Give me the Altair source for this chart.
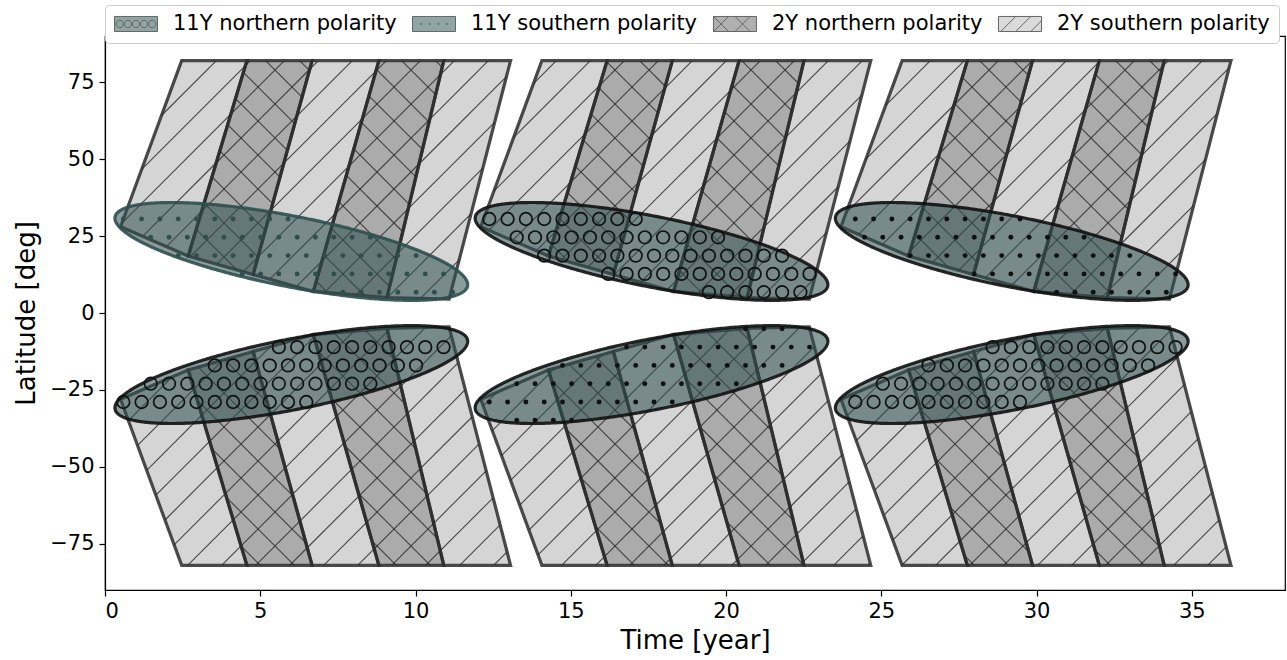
import math
import numpy as np
import pandas as pd
import altair as alt

# ---------------- values ----------------
CYCLE_SHIFT = [0.0, 11.6, 23.2]                       # start shift of each 11-year cycle [year]
BAND_TOP_T = [2.47, 4.57, 6.67, 8.82, 10.91, 13.06]   # 2Y band boundaries at the high-latitude edge
BAND_TOP_LAT = 82.0
BAND_BOT_T = [0.50, 2.68, 4.77, 6.71, 9.08, 11.08]    # 2Y band boundaries where they meet the 11Y belt
BAND_BOT_LAT = [28.0, 18.5, 12.5, 7.0, 5.0, 4.5]
BAND_KIND = ["2Y southern polarity", "2Y northern polarity", "2Y southern polarity",
             "2Y northern polarity", "2Y southern polarity"]

ELL_T = [6.0, 17.6, 29.2]        # centre time of each 11Y belt
ELL_LAT = 20.0                   # |centre latitude| of the belts
ELL_HALF_T = 5.68                # half time extent
ELL_HALF_LAT = 15.9              # half latitude extent
ELL_TIP_DLAT = 10.8              # early tip lies this far poleward of the centre
ELL_NORTH_KIND = ["11Y southern polarity", "11Y northern polarity", "11Y southern polarity"]
ELL_SOUTH_KIND = ["11Y northern polarity", "11Y southern polarity", "11Y northern polarity"]

LEGEND_ORDER = ["11Y northern polarity", "11Y southern polarity",
                "2Y northern polarity", "2Y southern polarity"]
X_TICKS = [0, 5, 10, 15, 20, 25, 30, 35]
Y_TICKS = [-75, -50, -25, 0, 25, 50, 75]

# ---------------- layout / style ----------------
W, H = 1180, 554
T_DOM = [0.0, 38.0]
LAT_DOM = [-90.0, 90.0]
FONT = "DejaVu Sans"
BAND_FILL = {"2Y southern polarity": "#d5d5d5", "2Y northern polarity": "#ababab"}
ELL_FILL = "#2f4f4f"
ELL_ALPHA = 0.56
LINE_SP = 34.0      # hatch line spacing (px)
SHAPE_SP = 18.3     # dot / circle hatch spacing (px)
CIRC_R = 6.3        # hatch circle radius (px)

PXT = W / (T_DOM[1] - T_DOM[0])
PXL = H / (LAT_DOM[1] - LAT_DOM[0])


def to_px(t, lat):
    return ((t - T_DOM[0]) * PXT, (LAT_DOM[1] - lat) * PXL)


def to_dat(X, Y):
    return (X / PXT + T_DOM[0], LAT_DOM[1] - Y / PXL)


def clip_line(poly, fam, c):
    pts = []
    n = len(poly)
    for i in range(n):
        (x1, y1), (x2, y2) = poly[i], poly[(i + 1) % n]
        f1 = x1 + fam * y1 - c
        f2 = x2 + fam * y2 - c
        if f1 == 0:
            pts.append((x1, y1))
        if (f1 < 0 < f2) or (f2 < 0 < f1):
            s = f1 / (f1 - f2)
            pts.append((x1 + s * (x2 - x1), y1 + s * (y2 - y1)))
    if len(pts) < 2:
        return None
    pts.sort()
    a, b = pts[0], pts[-1]
    if math.hypot(b[0] - a[0], b[1] - a[1]) < 1.0:
        return None
    return a, b


# ---------------- 2Y bands ----------------
band_rows, hatch_rows = [], []
for ci, sh in enumerate(CYCLE_SHIFT):
    for hemi, sg in (("N", 1), ("S", -1)):
        for k, kind in enumerate(BAND_KIND):
            bid = f"c{ci}{hemi}b{k}"
            tl, tr = BAND_TOP_T[k] + sh, BAND_TOP_T[k + 1] + sh
            bl, br = BAND_BOT_T[k] + sh, BAND_BOT_T[k + 1] + sh
            la, lb, top = BAND_BOT_LAT[k], BAND_BOT_LAT[k + 1], BAND_TOP_LAT
            if lb < la:
                xr = br + (tr - br) * (la - lb) / (top - lb)
                rows = [(lb, br, br), (la, bl, xr), (top, tl, tr)]
            else:
                xl = bl + (tl - bl) * (lb - la) / (top - la)
                rows = [(la, bl, bl), (lb, xl, br), (top, tl, tr)]
            for L, x1, x2 in rows:
                band_rows.append(dict(id=bid, lat=sg * L, x=x1, x2=x2, fill=BAND_FILL[kind]))
            poly = [to_px(tl, sg * top), to_px(tr, sg * top), to_px(br, sg * lb), to_px(bl, sg * la)]
            fams = [1] if kind == "2Y southern polarity" else [1, -1]
            for fam in fams:
                vals = [X + fam * Y for X, Y in poly]
                for n in range(math.ceil(min(vals) / LINE_SP), math.floor(max(vals) / LINE_SP) + 1):
                    seg = clip_line(poly, fam, n * LINE_SP)
                    if seg:
                        (ax, ay), (bx, by) = seg
                        t1, l1 = to_dat(ax, ay)
                        t2, l2 = to_dat(bx, by)
                        hatch_rows.append(dict(t=t1, lat=l1, t2=t2, lat2=l2))

band_df = pd.DataFrame(band_rows)
hatch_df = pd.DataFrame(hatch_rows)

# ---------------- 11Y belts ----------------
E_MINOR = math.sqrt(ELL_HALF_LAT ** 2 - ELL_TIP_DLAT ** 2)
ell_rows, circ_rows, dot_rows = [], [], []
phi = np.linspace(math.pi, 0, 241)


def rho_of(Xp, Yp, ct, clat, sd):
    t, lat = to_dat(Xp, Yp)
    uu = (t - ct) / ELL_HALF_T
    vv = (lat - clat - sd * uu) / E_MINOR
    return math.sqrt(uu * uu + vv * vv)


for ci, ct in enumerate(ELL_T):
    for hemi, sg, kinds in (("N", 1, ELL_NORTH_KIND), ("S", -1, ELL_SOUTH_KIND)):
        eid = f"e{ci}{hemi}"
        clat = sg * ELL_LAT
        sd = -sg * ELL_TIP_DLAT
        edge = "#2f4f4f" if (ci == 0 and hemi == "N") else "#111111"
        for p in phi:
            u = math.cos(p)
            s = math.sin(p)
            ell_rows.append(dict(id=eid, t=ct + ELL_HALF_T * u,
                                 hi=clat + sd * u + E_MINOR * s,
                                 lo=clat + sd * u - E_MINOR * s, edge=edge))
        kind = kinds[ci]
        # hatch grid (staggered rows), kept inside the belt
        X0, Y0 = to_px(ct - ELL_HALF_T, clat + ELL_HALF_LAT)
        X1, Y1 = to_px(ct + ELL_HALF_T, clat - ELL_HALF_LAT)
        for r in range(math.floor(Y0 / SHAPE_SP) - 1, math.ceil(Y1 / SHAPE_SP) + 2):
            Yc = r * SHAPE_SP
            off = 0.5 * SHAPE_SP if r % 2 else 0.0
            for kk in range(math.floor(X0 / SHAPE_SP) - 2, math.ceil(X1 / SHAPE_SP) + 2):
                Xc = kk * SHAPE_SP + off
                t, lat = to_dat(Xc, Yc)
                if kind == "11Y northern polarity":
                    q = 0.55 * CIRC_R
                    probes = [(Xc, Yc), (Xc + q, Yc), (Xc - q, Yc), (Xc, Yc + q), (Xc, Yc - q),
                              (Xc + 0.7 * q, Yc + 0.7 * q), (Xc - 0.7 * q, Yc - 0.7 * q),
                              (Xc + 0.7 * q, Yc - 0.7 * q), (Xc - 0.7 * q, Yc + 0.7 * q)]
                    if all(rho_of(a, b, ct, clat, sd) < 1.0 for a, b in probes):
                        circ_rows.append(dict(t=t, lat=lat, col=edge))
                else:
                    if rho_of(Xc, Yc, ct, clat, sd) < 0.97:
                        dot_rows.append(dict(t=t, lat=lat, col=edge))

ell_df = pd.DataFrame(ell_rows)
circ_df = pd.DataFrame(circ_rows)
dot_df = pd.DataFrame(dot_rows)

# ---------------- scales / axes ----------------
xs = alt.Scale(domain=T_DOM, nice=False, zero=False)
ys = alt.Scale(domain=LAT_DOM, nice=False, zero=False)
x_axis = alt.Axis(values=X_TICKS, title="Time [year]", grid=False, format="d",
                  labelFont=FONT, titleFont=FONT, labelFontSize=21, titleFontSize=26,
                  titleFontWeight="normal", labelColor="black", titleColor="black",
                  tickColor="black", domainColor="black", tickSize=6, labelPadding=4,
                  titlePadding=6, domainWidth=1.2, tickWidth=1.2)
y_axis = alt.Axis(values=Y_TICKS, title="Latitude [deg]", grid=False, format="d",
                  labelFont=FONT, titleFont=FONT, labelFontSize=21, titleFontSize=26,
                  titleFontWeight="normal", labelColor="black", titleColor="black",
                  tickColor="black", domainColor="black", tickSize=6, labelPadding=5,
                  titlePadding=10, domainWidth=1.2, tickWidth=1.2)


def X(f):
    return alt.X(f, type="quantitative", scale=xs, axis=x_axis)


def Y(f):
    return alt.Y(f, type="quantitative", scale=ys, axis=y_axis)


band_fill = alt.Chart(band_df).mark_area(orient="horizontal", opacity=1, strokeWidth=0).encode(
    y=Y("lat"), x=X("x"), x2="x2:Q", detail="id:N",
    fill=alt.Fill("fill:N", scale=None),
)

band_hatch = alt.Chart(hatch_df).mark_rule(color="#333333", strokeWidth=1.1, opacity=0.9).encode(
    x=X("t"), y=Y("lat"), x2="t2:Q", y2="lat2:Q",
)

band_edge = alt.Chart(band_df).mark_area(orient="horizontal", fill="white", fillOpacity=0,
                                         stroke="#2b2b2b", strokeWidth=3.2, strokeOpacity=0.85,
                                         strokeJoin="miter").encode(
    y=Y("lat"), x=X("x"), x2="x2:Q", detail="id:N",
)

ell_fill = alt.Chart(ell_df).mark_area(orient="vertical", color=ELL_FILL, opacity=ELL_ALPHA,
                                       strokeWidth=0).encode(
    x=X("t"), y=Y("hi"), y2="lo:Q", detail="id:N",
)

circ = alt.Chart(circ_df).mark_point(shape="circle", filled=False, size=(2 * CIRC_R) ** 2,
                                     strokeWidth=1.7, opacity=1).encode(
    x=X("t"), y=Y("lat"), color=alt.Color("col:N", scale=None),
)

dots = alt.Chart(dot_df).mark_circle(size=24, opacity=1).encode(
    x=X("t"), y=Y("lat"), color=alt.Color("col:N", scale=None),
)

ell_edge = alt.Chart(ell_df).mark_area(orient="vertical", fill="white", fillOpacity=0,
                                       strokeWidth=3.2, strokeOpacity=0.9).encode(
    x=X("t"), y=Y("hi"), y2="lo:Q", detail="id:N",
    stroke=alt.Stroke("edge:N", scale=None),
)


# ---------------- legend (hatched swatches as symbol paths) ----------------
def circ_path(cx, cy, r):
    return (f"M{cx + r:.3f},{cy:.3f}A{r},{r} 0 1 1 {cx - r:.3f},{cy:.3f}"
            f"A{r},{r} 0 1 1 {cx + r:.3f},{cy:.3f}Z")


RECT = "M-1,-0.35H1V0.35H-1Z"
P_CIRC = RECT + "".join(circ_path(x, 0, 0.17) for x in (-0.76, -0.38, 0.0, 0.38, 0.76))
P_DOTS = RECT + "".join(circ_path(x, 0, 0.035) for x in (-0.6, -0.2, 0.2, 0.6))
P_X = RECT + "M-1,-0.35L-0.3,0.35M0,-0.35L0.7,0.35M-1,0.35L-0.3,-0.35M0,0.35L0.7,-0.35"
P_SL = RECT + "M-0.9,0.35L-0.2,-0.35M-0.2,0.35L0.5,-0.35M0.5,0.35L1,-0.15"
LEG_SHAPES = [P_CIRC, P_DOTS, P_X, P_SL]
LEG_FILLS = ["#8fa5a3", "#8fa5a3", "#b0b0b0", "#dadada"]

leg_df = pd.DataFrame({"kind": LEGEND_ORDER, "t": [-5.0] * 4, "lat": [0.0] * 4})
leg = alt.Legend(title=None, orient="none", legendX=0, legendY=-31, direction="horizontal",
                 columns=4, symbolSize=43 * 43, symbolStrokeColor="#666666",
                 symbolStrokeWidth=1, symbolOpacity=1, clipHeight=20,
                 labelFont=FONT, labelFontSize=21, labelColor="black", labelOffset=15,
                 columnPadding=15, padding=9, strokeColor="#cccccc", fillColor="white",
                 cornerRadius=4, labelLimit=400)
legend_layer = alt.Chart(leg_df).mark_point(filled=True, clip=True, opacity=1,
                                            stroke="#666666", strokeWidth=1).encode(
    x=X("t"), y=Y("lat"),
    color=alt.Color("kind:N", scale=alt.Scale(domain=LEGEND_ORDER, range=LEG_FILLS), legend=leg),
    shape=alt.Shape("kind:N", scale=alt.Scale(domain=LEGEND_ORDER, range=LEG_SHAPES), legend=leg),
)

chart = alt.layer(band_fill, band_hatch, band_edge, ell_fill, circ, dots, ell_edge, legend_layer).properties(
    width=W, height=H,
    padding={"left": 105, "top": 36, "right": 2, "bottom": 70},
    autosize=alt.AutoSizeParams(type="none"),
    background="white",
).configure_view(stroke="black", strokeWidth=1.2)

chart.save("out.html", embed_options={"renderer": "svg", "actions": False})
